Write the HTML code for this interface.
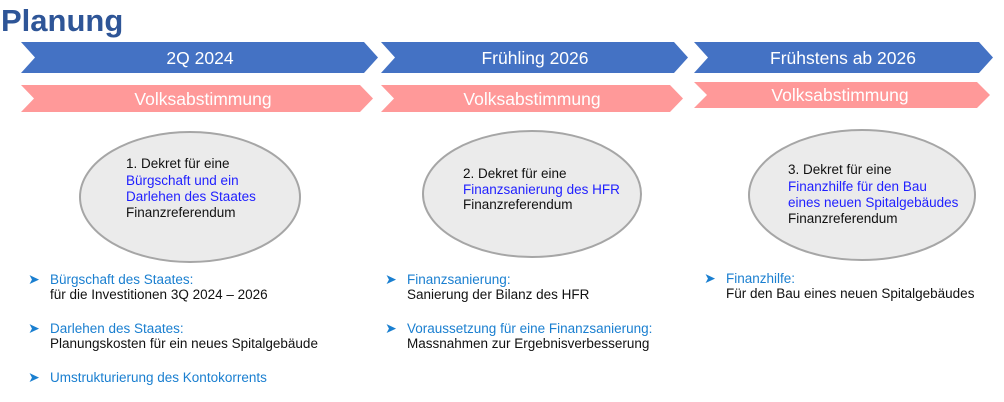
<!DOCTYPE html>
<html><head><meta charset="utf-8"><style>
html,body{margin:0;padding:0;background:#fff;width:1004px;height:402px;overflow:hidden}
svg{display:block}
.t{font-family:"Liberation Sans",Arial,sans-serif;font-size:13.5px;fill:#111}
.b{fill:#1f1fff}
.c{fill:#1a7fd0}
.h{font-family:"Liberation Sans",Arial,sans-serif;font-size:17.5px;fill:#fff;text-anchor:middle}
.ar{fill:#1a7fd0;font-family:"DejaVu Sans",sans-serif;font-size:14px}
</style></head><body>
<svg width="1004" height="402" viewBox="0 0 1004 402" xmlns="http://www.w3.org/2000/svg">
<text x="1" y="31" font-family="Liberation Sans,Arial,sans-serif" font-weight="bold" font-size="31" fill="#2e5597">Planung</text>
<polygon points="21,42 364,42 378,57.5 364,73 21,73 35,57.5" fill="#4472c4"/>
<polygon points="381,42 674,42 688,57.5 674,73 381,73 395,57.5" fill="#4472c4"/>
<polygon points="694,42 979,42 993,57.5 979,73 694,73 708,57.5" fill="#4472c4"/>
<polygon points="21,85 360,85 373,98.5 360,112 21,112 34,98.5" fill="#ff9999"/>
<polygon points="381,85 670,85 683,98.5 670,112 381,112 394,98.5" fill="#ff9999"/>
<polygon points="694,82 977,82 990,95 977,108 694,108 707,95" fill="#ff9999"/>
<text class="h" x="200" y="64">2Q 2024</text>
<text class="h" x="535" y="64">Frühling 2026</text>
<text class="h" x="843" y="64">Frühstens ab 2026</text>
<text class="h" x="203" y="105">Volksabstimmung</text>
<text class="h" x="532" y="105">Volksabstimmung</text>
<text class="h" x="840" y="101">Volksabstimmung</text>
<ellipse cx="190" cy="197" rx="110" ry="65" fill="#ebebeb" stroke="#a6a6a6" stroke-width="2"/>
<ellipse cx="532" cy="194" rx="109" ry="63" fill="#ebebeb" stroke="#a6a6a6" stroke-width="2"/>
<ellipse cx="862" cy="195" rx="113" ry="65" fill="#ebebeb" stroke="#a6a6a6" stroke-width="2"/>
<text class="t" x="126" y="168">1. Dekret für eine</text>
<text class="t b" x="126" y="185">Bürgschaft und ein</text>
<text class="t b" x="126" y="201">Darlehen des Staates</text>
<text class="t" x="126" y="217">Finanzreferendum</text>
<text class="t" x="463" y="178">2. Dekret für eine</text>
<text class="t b" x="463" y="194">Finanzsanierung des HFR</text>
<text class="t" x="463" y="209">Finanzreferendum</text>
<text class="t" x="788" y="174">3. Dekret für eine</text>
<text class="t b" x="788" y="191">Finanzhilfe für den Bau</text>
<text class="t b" x="788" y="207">eines neuen Spitalgebäudes</text>
<text class="t" x="788" y="223">Finanzreferendum</text>
<text class="ar" x="28" y="284">➤</text>
<text class="t c" x="50" y="284">Bürgschaft des Staates:</text>
<text class="t" x="50" y="299">für die Investitionen 3Q 2024 – 2026</text>
<text class="ar" x="28" y="333">➤</text>
<text class="t c" x="50" y="333">Darlehen des Staates:</text>
<text class="t" x="50" y="348">Planungskosten für ein neues Spitalgebäude</text>
<text class="ar" x="28" y="382">➤</text>
<text class="t c" x="50" y="382">Umstrukturierung des Kontokorrents</text>
<text class="ar" x="385" y="284">➤</text>
<text class="t c" x="407" y="284">Finanzsanierung:</text>
<text class="t" x="407" y="299">Sanierung der Bilanz des HFR</text>
<text class="ar" x="385" y="333">➤</text>
<text class="t c" x="407" y="333">Voraussetzung für eine Finanzsanierung:</text>
<text class="t" x="407" y="348">Massnahmen zur Ergebnisverbesserung</text>
<text class="ar" x="704" y="283">➤</text>
<text class="t c" x="726" y="283">Finanzhilfe:</text>
<text class="t" x="726" y="298">Für den Bau eines neuen Spitalgebäudes</text>
</svg>
</body></html>
